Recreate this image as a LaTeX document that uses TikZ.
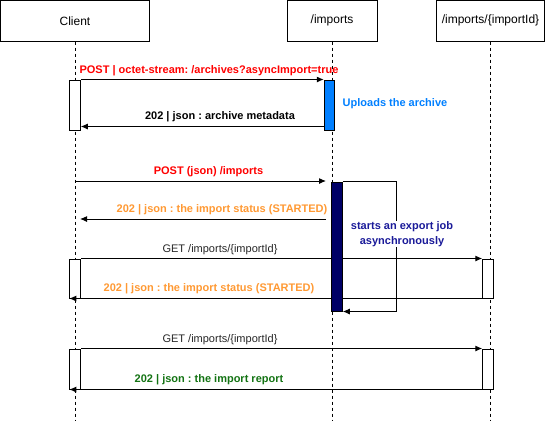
\documentclass[tikz,border=0pt]{standalone}
\usepackage{fontspec}
\setmainfont{Liberation Sans}
\usetikzlibrary{arrows.meta}
\frenchspacing
\definecolor{msgred}{HTML}{FF0000}
\definecolor{msgorange}{HTML}{FF9933}
\definecolor{msgblue}{HTML}{007FFF}
\definecolor{msggreen}{HTML}{137313}
\definecolor{jobnavy}{HTML}{000066}
\definecolor{jobtext}{HTML}{1A1A99}
\begin{document}
\begin{tikzpicture}[x=1pt,y=-1pt,
        head/.style={draw,line width=1pt,minimum height=40.5pt,inner sep=0pt,font=\fontsize{12}{14}\selectfont},
        act/.style={draw,line width=1pt,fill=white,minimum width=10.5pt,inner sep=0pt},
        life/.style={line width=0.8pt,dash pattern=on 3pt off 3pt},
        msg/.style={line width=1pt,-{Latex[length=7pt,width=6pt]}},
        lbl/.style={font=\bfseries\fontsize{11}{14.5}\selectfont,inner sep=0pt}]
        \useasboundingbox (0,0) rectangle (546,421);
        % the three lifelines
        \node[head,minimum width=149pt] (client) at (75,20.75) {Client};
        \node[head,minimum width=90pt] (imp) at (332,20.75) {/imports};
        \node[head,minimum width=108pt] (impid) at (490.5,20.75) {/imports/\{importId\}};
        \foreach \n in {client, imp, impid}
        \draw[life] (\n.south) -- (\n.south |- 0,421);
        % activations
        \node[act,minimum height=50pt] (cact1) at (75,105) {};
        \node[act,fill=msgblue,minimum height=50pt] (iact1) at (329.5,105) {};
        \node[act,minimum height=39pt] (cact2) at (75,278.5) {};
        \node[act,minimum height=39pt] (idact1) at (488,278.5) {};
        \node[act,minimum height=40pt] (cact3) at (75,369) {};
        \node[act,minimum height=40pt] (idact2) at (488,369) {};
        % upload
        \draw[msg] (cact1.north east) -- (iact1.north west);
        \node[lbl,text=msgred] (m1) at (209,71) {POST | octet-stream: /archives?asyncImport=true};
        \draw[msg] ([yshift=4pt]iact1.south west) -- ([yshift=4pt]cact1.south east);
        \node[lbl] (m2) at (220,117) {202 | json : archive metadata};
        \node[lbl,text=msgblue] (up) at (395,104) {Uploads the archive};
        % start the import
        \coordinate (c3) at (75,181);
        \coordinate (i3) at (326,181);
        \draw[msg] (c3) -- (i3);
        \node[lbl,text=msgred] (m3) at (208.5,172) {POST (json) /imports};
        \coordinate (i4) at (326,219);
        \coordinate (c4) at (80,219);
        \draw[msg] (i4) -- (c4);
        \node[lbl,text=msgorange] (m4) at (222,210) {202 | json : the import status (STARTED)};
        % polling
        \draw[msg] (cact2.north east) -- (idact1.north west);
        \node[lbl,font=\fontsize{11}{13}\selectfont,text=black!85] (m5) at (220,250) {GET /imports/\{importId\}};
        \draw[msg] (idact1.south west) -- (cact2.south west);
        \node[lbl,text=msgorange] (m6) at (209,289) {202 | json : the import status (STARTED)};
        \draw[msg] (cact3.north east) -- (idact2.north west);
        \node[lbl,font=\fontsize{11}{13}\selectfont,text=black!85] (m7) at (220,340) {GET /imports/\{importId\}};
        \draw[msg] (idact2.south west) -- (cact3.south west);
        \node[lbl,text=msggreen] (m8) at (209,380) {202 | json : the import report};
        % export job
        \node[act,fill=jobnavy,minimum height=129pt] (job) at (337,246.5) {};
        \draw[msg] (job.north east) -- ++(54,0) |- (job.south east);
        \node[lbl,text=jobtext,fill=white,inner sep=1pt,align=center] (jobtxt) at (402,234) {starts an export job\\asynchronously};
      \end{tikzpicture}
\end{document}
